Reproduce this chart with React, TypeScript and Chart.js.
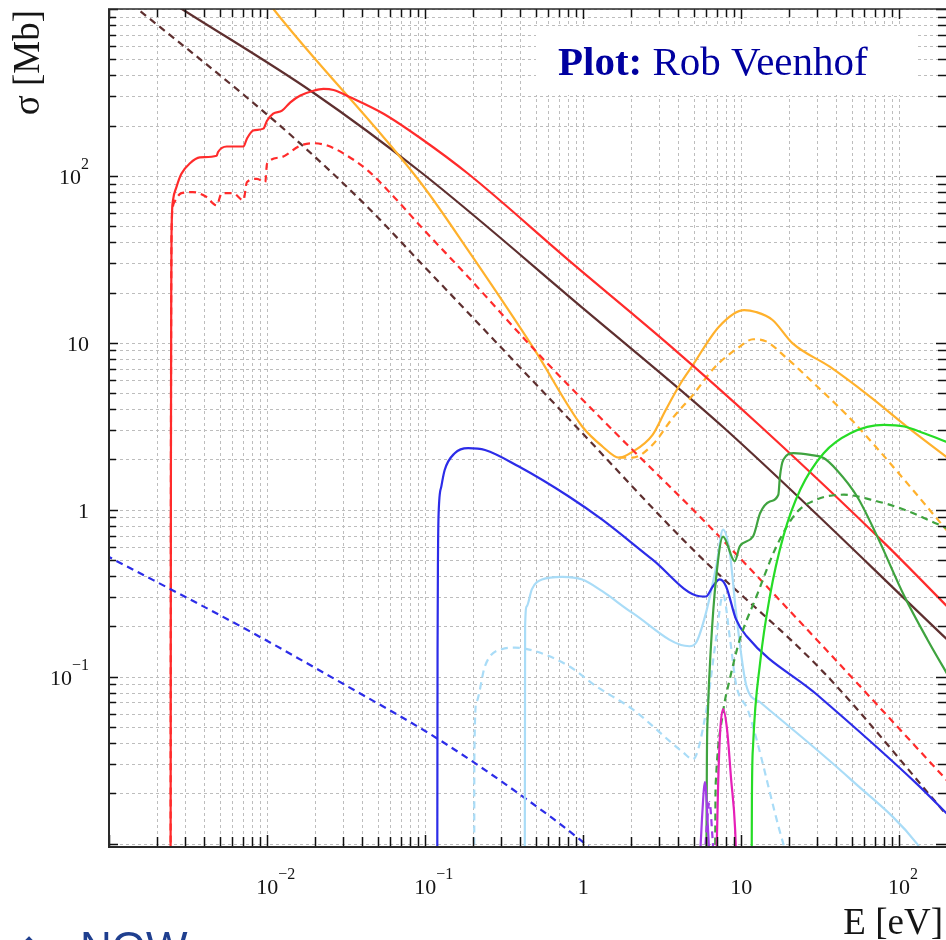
import React, { useEffect, useRef } from 'react';
import { Chart, registerables } from 'chart.js';

Chart.register(...registerables);

// ---------- axis ranges ----------
const X_MIN = 0.000981;
const X_MAX = 204;
const Y_MIN = 0.00953;
const Y_MAX = 1000;

// ---------- tick labels ----------
const xTickValues = [0.01, 0.1, 1, 10, 100];
const xTickBase = ['10', '10', '1', '10', '10'];
const xTickExp = ['\u22122', '\u22121', '', '', '2'];
const yTickValues = [0.1, 1, 10, 100];
const yTickBase = ['10', '1', '10', '10'];
const yTickExp = ['\u22121', '', '', '2'];

const xTitle = 'E [eV]';
const yTitle = '\u03c3 [Mb]';
const creditBold = 'Plot:';
const creditText = ' Rob Veenhof';
const slideText = 'NOW';
const slideBullet = '\u25c6';

// ---------- series (E in eV, sigma in Mb) ----------
const brownSolidE = [0.0020, 0.00288, 0.0196, 0.0944, 1.03, 7.68, 211];
const brownSolidS = [1245, 1000, 315, 104.8, 15.7, 3.13, 0.160];

const brownDashE = [0.0012, 0.00151, 0.00746, 0.0162, 0.0434, 0.0944, 0.944, 4.95, 33.3, 211];
const brownDashS = [1190, 1000, 294, 156, 64.7, 29.9, 3.01, 0.577, 0.106, 0.0140];

const redSolidE = [0.002440, 0.002455, 0.002465, 0.002477, 0.00253, 0.00266, 0.00286, 0.00324, 0.00374, 0.00478, 0.00488, 0.00554, 0.00706, 0.00743, 0.00815, 0.00944, 0.00996, 0.0109, 0.0124, 0.0140, 0.0162, 0.0196, 0.0227, 0.0263, 0.0338, 0.0548, 0.0944, 0.187, 0.811, 3.51, 13.0, 80.2, 211];
const redSolidS = [0.001, 2, 18, 45.3, 71.3, 85.6, 103, 119, 129, 132, 139, 150, 150, 167, 187, 192, 214, 236, 246, 276, 303, 324, 332, 327, 295, 235, 167, 103, 31.2, 9.69, 3.22, 0.635, 0.252];

const redDashE = [0.002440, 0.002455, 0.002465, 0.002477, 0.00253, 0.00259, 0.00286, 0.00338, 0.00413, 0.00478, 0.00515, 0.00607, 0.00706, 0.00743, 0.00860, 0.00971, 0.00996, 0.0121, 0.0162, 0.0196, 0.0240, 0.0305, 0.0432, 0.0636, 0.0944, 0.187, 0.494, 1.53, 5.73, 30.0, 211];
const redDashS = [0.001, 2, 18, 45, 66, 70, 78.8, 80, 74.7, 66.6, 78.8, 78.8, 71.3, 91.7, 96, 91.7, 118, 129, 152, 157, 152, 136, 108, 74.6, 49.4, 24.8, 9.04, 3.01, 0.871, 0.167, 0.0227];

const orangeSolidE = [0.009, 0.01097, 0.0944, 0.187, 0.494, 0.986, 1.32, 1.69, 2.05, 2.75, 3.33, 4.08, 4.87, 7.24, 10.45, 12.4, 15.8, 21.1, 36.4, 65.4, 112, 211];
const orangeSolidS = [1286, 997, 90.1, 35.8, 9.04, 3.15, 2.4, 2.05, 2.22, 2.81, 3.96, 5.59, 7.19, 12.5, 15.7, 15.3, 13.7, 9.96, 7.19, 4.76, 3.15, 1.99];

const orangeDashE = [1.69, 2.05, 2.75, 3.69, 4.95, 6.83, 9.71, 11.9, 14.4, 19.4, 29.6, 46.6, 69.4, 119, 211];
const orangeDashS = [2.05, 2.05, 2.45, 3.55, 4.87, 7.16, 9.42, 10.5, 10.2, 8.1, 5.59, 3.70, 2.45, 1.354, 0.709];

const blueSolidE = [0.1188, 0.1197, 0.1205, 0.1216, 0.1265, 0.1328, 0.1537, 0.187, 0.239, 0.389, 0.811, 1.32, 2.75, 5.46, 5.99, 6.63, 7.32, 8.02, 9.29, 10.8, 30.0, 130, 211];
const blueSolidS = [0.0005, 0.146, 0.551, 0.956, 1.38, 1.73, 2.18, 2.34, 2.28, 1.82, 1.20, 0.871, 0.502, 0.303, 0.302, 0.348, 0.382, 0.348, 0.220, 0.175, 0.0784, 0.0227, 0.0144];

const blueDashE = [0.00095, 0.00706, 0.0306, 0.119, 0.409, 1.03, 1.3];
const blueDashS = [0.533, 0.196, 0.0899, 0.0426, 0.0193, 0.00995, 0.0082];

const lightSolidE = [0.4255, 0.4289, 0.4397, 0.473, 0.548, 0.735, 0.986, 1.32, 2.05, 4.71, 5.19, 5.99, 6.96, 7.68, 8.47, 9.29, 10.8, 13.2, 49.2, 130, 150];
const lightSolidS = [0.0005, 0.2, 0.264, 0.333, 0.382, 0.396, 0.382, 0.325, 0.241, 0.152, 0.160, 0.241, 0.458, 0.759, 0.553, 0.242, 0.0879, 0.0702, 0.0243, 0.00995, 0.008];

const lightDashE = [0.2040, 0.2046, 0.211, 0.239, 0.305, 0.371, 0.497, 0.811, 1.20, 2.05, 4.27, 4.95, 5.99, 6.93, 7.68, 8.51, 9.29, 11.1, 18.5, 20];
const lightDashS = [0.0005, 0.032, 0.070, 0.1157, 0.146, 0.149, 0.142, 0.1157, 0.0879, 0.0638, 0.0353, 0.0320, 0.0612, 0.167, 0.310, 0.167, 0.0900, 0.0620, 0.00995, 0.008];

const greenSolidE = [5.95, 6.07, 6.16, 6.44, 6.93, 7.68, 9.12, 9.81, 11.9, 13.2, 15.2, 17.2, 17.6, 18.5, 21.5, 27.4, 33.3, 40.3, 54.2, 72.7, 108, 151, 211];
const greenSolidS = [0.0005, 0.032, 0.0612, 0.152, 0.382, 0.690, 0.491, 0.604, 0.692, 0.956, 1.12, 1.23, 1.58, 1.99, 2.18, 2.13, 2.04, 1.73, 1.20, 0.692, 0.303, 0.167, 0.0964];

const greenDashE = [6.78, 6.88, 6.93, 7.68, 8.47, 9.81, 12.5, 16.7, 22.4, 30.0, 44.7, 66.0, 108, 167, 211];
const greenDashS = [0.0005, 0.0185, 0.0243, 0.0612, 0.0964, 0.167, 0.302, 0.601, 0.959, 1.15, 1.23, 1.15, 1.0, 0.836, 0.759];

const limeE = [11.55, 11.7, 11.9, 13.2, 15.2, 18.5, 23.7, 33.3, 49.2, 80.2, 108, 144, 211];
const limeS = [0.0005, 0.0185, 0.0385, 0.122, 0.303, 0.692, 1.32, 2.18, 2.87, 3.22, 3.15, 2.87, 2.50];

const magentaE = [6.90, 7.14, 7.35, 7.68, 8.14, 8.64, 9.16, 9.45];
const magentaS = [0.005, 0.0212, 0.0452, 0.0638, 0.0484, 0.0243, 0.0122, 0.005];

const purpleSolidE = [5.40, 5.65, 5.90, 6.15, 6.40];
const purpleSolidS = [0.006, 0.014, 0.0233, 0.013, 0.006];

const purpleDashE = [5.80, 6.03, 6.31, 6.58, 6.85];
const purpleDashS = [0.006, 0.012, 0.0177, 0.011, 0.006];

// ---------- styles ----------
const BROWN = '#5e2f2f';
const RED = '#ff2b2b';
const ORANGE = '#ffb12c';
const BLUE = '#2c2ce8';
const LIGHTBLUE = '#a9dcf7';
const GREEN = '#3fa33f';
const LIME = '#26dc26';
const MAGENTA = '#e61fb8';
const PURPLE = '#a33ce6';
const DASH = [7, 5];
const GRID_COLOR = '#bdbdbd';
const SERIF = '"Liberation Serif", "Times New Roman", serif';

type Series = { e: number[]; s: number[]; color: string; dashed: boolean };

const seriesList: Series[] = [
  { e: magentaE, s: magentaS, color: MAGENTA, dashed: false },
  { e: purpleSolidE, s: purpleSolidS, color: PURPLE, dashed: false },
  { e: purpleDashE, s: purpleDashS, color: PURPLE, dashed: true },
  { e: limeE, s: limeS, color: LIME, dashed: false },
  { e: greenSolidE, s: greenSolidS, color: GREEN, dashed: false },
  { e: greenDashE, s: greenDashS, color: GREEN, dashed: true },
  { e: blueSolidE, s: blueSolidS, color: BLUE, dashed: false },
  { e: lightSolidE, s: lightSolidS, color: LIGHTBLUE, dashed: false },
  { e: lightDashE, s: lightDashS, color: LIGHTBLUE, dashed: true },
  { e: blueDashE, s: blueDashS, color: BLUE, dashed: true },
  { e: redSolidE, s: redSolidS, color: RED, dashed: false },
  { e: redDashE, s: redDashS, color: RED, dashed: true },
  { e: orangeSolidE, s: orangeSolidS, color: ORANGE, dashed: false },
  { e: orangeDashE, s: orangeDashS, color: ORANGE, dashed: true },
  { e: brownSolidE, s: brownSolidS, color: BROWN, dashed: false },
  { e: brownDashE, s: brownDashS, color: BROWN, dashed: true },
];

function logGridValues(min: number, max: number): number[] {
  const out: number[] = [];
  const e0 = Math.floor(Math.log10(min));
  const e1 = Math.ceil(Math.log10(max));
  for (let e = e0; e <= e1; e++) {
    for (let m = 1; m <= 9; m++) {
      const v = m * Math.pow(10, e);
      if (v >= min && v <= max) out.push(v);
    }
  }
  return out;
}

function isDecade(v: number): boolean {
  const l = Math.log10(v);
  return Math.abs(l - Math.round(l)) < 1e-6;
}

const rootStylePlugin = {
  id: 'rootStyle',
  beforeDatasetsDraw(chart: any) {
    const { ctx, chartArea: a, scales } = chart;
    const xs = scales.x;
    const ys = scales.y;
    ctx.save();
    ctx.beginPath();
    ctx.rect(a.left, a.top, a.right - a.left, a.bottom - a.top);
    ctx.clip();
    ctx.strokeStyle = GRID_COLOR;
    ctx.lineWidth = 1;
    ctx.setLineDash([3, 3]);
    for (const v of logGridValues(X_MIN, X_MAX)) {
      const p = Math.round(xs.getPixelForValue(v)) + 0.5;
      ctx.beginPath();
      ctx.moveTo(p, a.top);
      ctx.lineTo(p, a.bottom);
      ctx.stroke();
    }
    for (const v of logGridValues(Y_MIN, Y_MAX)) {
      const p = Math.round(ys.getPixelForValue(v)) + 0.5;
      ctx.beginPath();
      ctx.moveTo(a.left, p);
      ctx.lineTo(a.right, p);
      ctx.stroke();
    }
    ctx.setLineDash([]);
    // credit box
    ctx.fillStyle = '#ffffff';
    ctx.fillRect(536, 26, 381, 69);
    ctx.fillStyle = '#0000a0';
    ctx.textAlign = 'left';
    ctx.textBaseline = 'alphabetic';
    ctx.font = `bold 41px ${SERIF}`;
    ctx.fillText(creditBold, 558, 75);
    const w = ctx.measureText(creditBold).width;
    ctx.font = `41px ${SERIF}`;
    ctx.fillText(creditText, 558 + w, 75);
    ctx.restore();
  },
  afterDraw(chart: any) {
    const { ctx, chartArea: a, scales } = chart;
    const xs = scales.x;
    const ys = scales.y;
    ctx.save();
    // ticks
    ctx.strokeStyle = '#111';
    ctx.lineWidth = 1.5;
    for (const v of logGridValues(X_MIN, X_MAX)) {
      const p = Math.round(xs.getPixelForValue(v)) + 0.5;
      const len = isDecade(v) ? 12 : 10;
      ctx.beginPath();
      ctx.moveTo(p, a.bottom);
      ctx.lineTo(p, a.bottom - len);
      ctx.moveTo(p, a.top);
      ctx.lineTo(p, a.top + (isDecade(v) ? 10 : 8));
      ctx.stroke();
    }
    for (const v of logGridValues(Y_MIN, Y_MAX)) {
      const p = Math.round(ys.getPixelForValue(v)) + 0.5;
      const len = isDecade(v) ? 10 : 8;
      ctx.beginPath();
      ctx.moveTo(a.left, p);
      ctx.lineTo(a.left + len, p);
      ctx.moveTo(a.right, p);
      ctx.lineTo(a.right - (isDecade(v) ? 12 : 10), p);
      ctx.stroke();
    }
    // frame
    ctx.strokeStyle = '#2a2a2a';
    ctx.lineWidth = 2;
    ctx.beginPath();
    ctx.moveTo(a.left + 1, a.top);
    ctx.lineTo(a.left + 1, a.bottom);
    ctx.lineTo(a.right, a.bottom);
    ctx.stroke();
    ctx.lineWidth = 1.5;
    ctx.beginPath();
    ctx.moveTo(a.left, a.top);
    ctx.lineTo(a.right, a.top);
    ctx.lineTo(a.right, a.bottom);
    ctx.stroke();

    // x labels
    ctx.fillStyle = '#151515';
    ctx.textBaseline = 'alphabetic';
    ctx.textAlign = 'left';
    xTickValues.forEach((v, i) => {
      const px = xs.getPixelForValue(v);
      ctx.font = `22px ${SERIF}`;
      const bw = ctx.measureText(xTickBase[i]).width;
      ctx.fillText(xTickBase[i], px - bw / 2, 894);
      if (xTickExp[i]) {
        ctx.font = `16px ${SERIF}`;
        ctx.fillText(xTickExp[i], px + bw / 2, 879);
      }
    });
    // y labels
    const R = 89;
    yTickValues.forEach((v, i) => {
      const py = ys.getPixelForValue(v);
      ctx.font = `16px ${SERIF}`;
      const sw = yTickExp[i] ? ctx.measureText(yTickExp[i]).width : 0;
      ctx.textAlign = 'right';
      ctx.font = `22px ${SERIF}`;
      ctx.fillText(yTickBase[i], R - sw, py + 8);
      if (yTickExp[i]) {
        ctx.textAlign = 'left';
        ctx.font = `16px ${SERIF}`;
        ctx.fillText(yTickExp[i], R - sw, py - 7);
      }
    });
    // axis titles
    ctx.font = `37px ${SERIF}`;
    ctx.fillStyle = '#151515';
    ctx.textAlign = 'right';
    ctx.fillText(xTitle, 943, 934);
    ctx.save();
    ctx.translate(39, 10);
    ctx.rotate(-Math.PI / 2);
    ctx.textAlign = 'right';
    ctx.fillText(yTitle, 0, 0);
    ctx.restore();

    // slide remnants at bottom-left
    ctx.fillStyle = '#1f3f8f';
    ctx.textAlign = 'left';
    ctx.font = `44px "Liberation Sans", Arial, sans-serif`;
    ctx.fillText(slideText, 80, 963);
    ctx.font = `26px "DejaVu Sans", sans-serif`;
    ctx.textAlign = 'center';
    ctx.fillText(slideBullet, 29, 953);
    ctx.restore();
  },
};

export default function App() {
  const canvasRef = useRef<HTMLCanvasElement | null>(null);

  useEffect(() => {
    if (!canvasRef.current) return;
    const datasets = seriesList.map((sr) => ({
      data: sr.e.map((x, i) => ({ x, y: sr.s[i] })),
      borderColor: sr.color,
      backgroundColor: sr.color,
      borderWidth: 2.2,
      borderDash: sr.dashed ? DASH : [],
      pointRadius: 0,
      pointHoverRadius: 0,
      showLine: true,
      fill: false,
      cubicInterpolationMode: 'monotone' as const,
      capBezierPoints: false,
    }));
    const chart = new Chart(canvasRef.current, {
      type: 'scatter',
      data: { datasets },
      options: {
        responsive: false,
        maintainAspectRatio: false,
        devicePixelRatio: 1,
        animation: false,
        events: [],
        layout: { padding: { top: 9, right: 12, left: 0, bottom: 0 } },
        plugins: {
          legend: { display: false },
          tooltip: { enabled: false },
          title: { display: false },
        },
        scales: {
          x: {
            type: 'logarithmic',
            min: X_MIN,
            max: X_MAX,
            grid: { display: false },
            border: { display: false },
            ticks: { display: false },
            afterFit: (s: any) => {
              s.height = 93;
            },
          },
          y: {
            type: 'logarithmic',
            min: Y_MIN,
            max: Y_MAX,
            grid: { display: false },
            border: { display: false },
            ticks: { display: false },
            afterFit: (s: any) => {
              s.width = 108;
            },
          },
        },
      },
      plugins: [rootStylePlugin],
    });
    return () => chart.destroy();
  }, []);

  return (
    <div
      style={{
        position: 'absolute',
        left: 0,
        top: 0,
        width: 946,
        height: 940,
        overflow: 'hidden',
        background: '#ffffff',
      }}
    >
      <canvas ref={canvasRef} width={960} height={940} style={{ display: 'block' }} />
    </div>
  );
}
